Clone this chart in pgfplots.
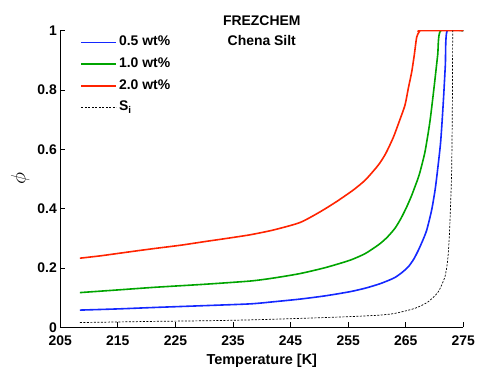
\documentclass[border=0pt]{standalone}
\usepackage{pgfplots}
\pgfplotsset{compat=1.18}
\usepackage{fontspec}
\setmainfont{Liberation Sans}
\definecolor{mblue}{RGB}{20,40,255}
\definecolor{mgreen}{RGB}{0,165,0}
\definecolor{mred}{RGB}{255,35,0}
\begin{document}
\begin{tikzpicture}
\begin{axis}[
  scale only axis,
  width=403bp, height=296.6bp,
  xmin=205, xmax=275, ymin=0, ymax=1,
  xtick={205,215,...,275}, ytick={0,0.2,...,1},
  axis x line*=bottom, axis y line*=left,
  axis line style={line width=0.9bp,-},
  tick style={line width=0.9bp, black},
  tick align=inside,
  major tick length=5bp,
  /pgf/number format/assume math mode=true,
  /pgf/number format/1000 sep={},
  tick label style={font=\fontsize{14}{16}\selectfont\bfseries},
  xticklabel style={yshift=-5bp},
  xlabel={\textbf{Temperature [K]}},
  ylabel={$\phi$},
  every axis x label/.style={at={(axis description cs:0.5,0)}, anchor=base, yshift=-37bp, font=\fontsize{14.5}{16}\selectfont},
  every axis y label/.style={at={(axis description cs:-0.0993,0.5)}, anchor=center, rotate=90, font=\fontsize{20}{22}\selectfont},
  legend style={at={(axis description cs:0,1)}, anchor=north west, xshift=17bp, yshift=-1bp, draw=none, fill=none,
    font=\fontsize{14}{16}\selectfont\bfseries, row sep=4.7bp,
    nodes={inner sep=2bp, text height=10bp, text depth=3bp}},
  legend cell align=left,
  legend image code/.code={\draw[#1] (0bp,0bp) -- (35bp,0bp);},
  clip mode=individual,
]
\addplot[mblue, line width=1.6bp, smooth, tension=0.4] coordinates {
(208.4,0.058) (215,0.062) (221.5,0.067) (230,0.073) (238,0.079) (242,0.086) (246.6,0.095) (251,0.106) (255.3,0.120) (258,0.132) (260.4,0.146) (262,0.158) (263.14,0.168) (264.3,0.184) (265.45,0.204) (266.4,0.23) (267.2,0.26) (268,0.295) (268.65,0.328) (269.5,0.395) (270.1,0.463) (270.5,0.525) (271.07,0.626) (271.53,0.76) (271.88,0.884) (272.2,1.0) (275,1.0)};
\addlegendentry{0.5 wt\%}
\addplot[mgreen, line width=1.6bp, smooth, tension=0.4] coordinates {
(208.4,0.117) (215,0.126) (221.5,0.135) (230,0.145) (238,0.156) (242,0.166) (246.6,0.181) (251,0.201) (255.3,0.226) (258,0.249) (260.4,0.280) (261.8,0.304) (263.14,0.334) (264.2,0.368) (265.17,0.406) (266.0,0.443) (266.6,0.474) (267.1,0.50) (267.5,0.525) (268.35,0.592) (269.2,0.693) (269.97,0.817) (270.55,0.918) (271.07,1.0) (275,1.0)};
\addlegendentry{1.0 wt\%}
\addplot[mred, line width=1.6bp, smooth, tension=0.4] coordinates {
(208.4,0.233) (212,0.241) (215,0.249) (218,0.257) (221.5,0.266) (226,0.277) (230.1,0.289) (234,0.300) (238,0.312) (242,0.328) (246.6,0.353) (250.1,0.389) (253,0.424) (255.9,0.463) (258,0.497) (260.24,0.547) (261.5,0.585) (262.84,0.64) (263.8,0.69) (264.87,0.749) (265.45,0.806) (266.04,0.861) (266.5,0.92) (266.9,0.978) (267.3,0.995) (267.6,1.0) (275,1.0)};
\addlegendentry{2.0 wt\%}
\addplot[black, line width=0.7bp, dash pattern=on 2bp off 1.5bp, smooth, tension=0.4] coordinates {
(208.4,0.016) (215,0.018) (221.5,0.020) (230,0.022) (238,0.025) (246.6,0.030) (255.3,0.036) (260.4,0.041) (263.14,0.047) (266.6,0.064) (268.9,0.086) (270.66,0.12) (271.82,0.171) (272.29,0.227) (272.57,0.305) (272.8,0.418) (272.98,0.53) (273.1,0.75) (273.16,1.0)};
\addlegendentry{S\textsubscript{i}}
\node[align=center, font=\fontsize{14}{20}\selectfont\bfseries] at (axis description cs:0.5,1) {FREZCHEM\\Chena Silt};
\end{axis}
\pgfresetboundingbox
\path[use as bounding box] (-60.3bp,-40.7bp) rectangle (418.7bp,327.3bp);
\end{tikzpicture}
\end{document}
